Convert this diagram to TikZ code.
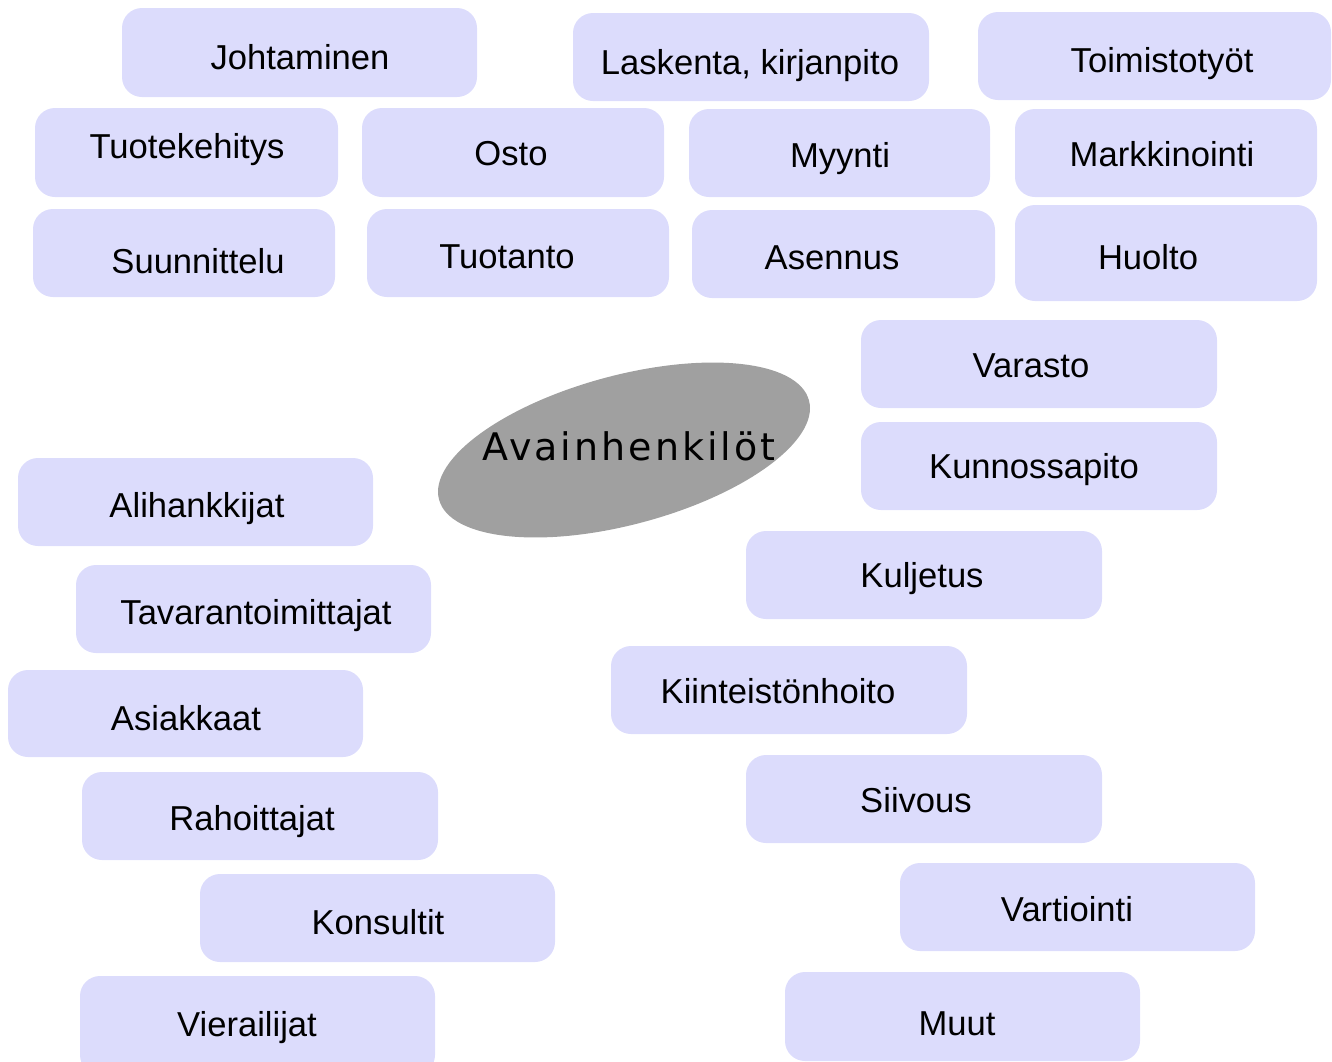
\documentclass[tikz,border=0pt]{standalone}
\usepackage{fontspec}
\setmainfont{Liberation Sans}
\newfontfamily\ellfont[LetterSpace=8]{DejaVu Sans}
\usetikzlibrary{shapes.geometric,fit}
\definecolor{boxblue}{HTML}{DCDCFC}
\definecolor{ellgray}{HTML}{A0A0A0}
\tikzset{
  box/.style={fill=boxblue, draw=none, rounded corners=10pt, inner sep=0pt},
  lbl/.style={anchor=base, inner sep=0pt, font=\fontsize{17.3}{20}\selectfont, text=black},
  centre/.style={ellipse, fill=ellgray, draw=none, inner sep=0pt,
    minimum width=191.5pt, minimum height=74.6pt, rotate=15},
  centrelbl/.style={anchor=base, inner sep=0pt, font=\ellfont\fontsize{19}{22}\selectfont, text=black}
}
\newcommand\bx[8]{%
  \node[box, fit={(#2,#3) (#4,#5)}] (#1box) {};
  \node[lbl] (#1) at (#6,#7) {#8};
}
\begin{document}
\begin{tikzpicture}[x=0.5pt, y=-0.5pt]
\useasboundingbox (0,0) rectangle (1332,1061);
\begin{scope}
\clip (0,0) rectangle (1332,1061);
\bx{johta}{122}{8}{477}{97}{300}{69}{Johtaminen}
\bx{laske}{573}{13}{929}{101}{750}{74}{Laskenta, kirjanpito}
\bx{toimi}{978}{12}{1331}{100}{1162}{72}{Toimistotyöt}
\bx{tuote}{35}{108}{338}{197}{187}{158}{Tuotekehitys}
\bx{osto}{362}{108}{664}{197}{511}{165}{Osto}
\bx{myynti}{689}{109}{990}{197}{840}{167}{Myynti}
\bx{markk}{1015}{109}{1317}{197}{1162}{166}{Markkinointi}
\bx{suunn}{33}{209}{335}{297}{198}{273}{Suunnittelu}
\bx{tuotanto}{367}{209}{669}{297}{507}{268}{Tuotanto}
\bx{asennus}{692}{210}{995}{298}{832}{269}{Asennus}
\bx{huolto}{1015}{205}{1317}{301}{1148}{269}{Huolto}
\bx{varasto}{861}{320}{1217}{408}{1031}{377}{Varasto}
\bx{kunno}{861}{422}{1217}{510}{1034}{478}{Kunnossapito}
\bx{alih}{18}{458}{373}{546}{197}{517}{Alihankkijat}
\bx{tavar}{76}{565}{431}{653}{256}{624}{Tavarantoimittajat}
\bx{kulj}{746}{531}{1102}{619}{922}{587}{Kuljetus}
\bx{kiint}{611}{646}{967}{734}{778}{703}{Kiinteistönhoito}
\bx{asiak}{8}{670}{363}{757}{186}{730}{Asiakkaat}
\bx{rahoi}{82}{772}{438}{860}{252}{830}{Rahoittajat}
\bx{siivous}{746}{755}{1102}{843}{916}{812}{Siivous}
\bx{vartio}{900}{863}{1255}{951}{1067}{921}{Vartiointi}
\bx{konsu}{200}{874}{555}{962}{378}{934}{Konsultit}
\bx{muut}{785}{972}{1140}{1061}{957}{1035}{Muut}
\bx{vierai}{80}{976}{435}{1075}{247}{1036}{Vierailijat}
\node[centre] (avain) at (624,450) {};
\node[centrelbl] (avainlbl) at (629,460) {Avainhenkilöt};
\end{scope}
\end{tikzpicture}
\end{document}
